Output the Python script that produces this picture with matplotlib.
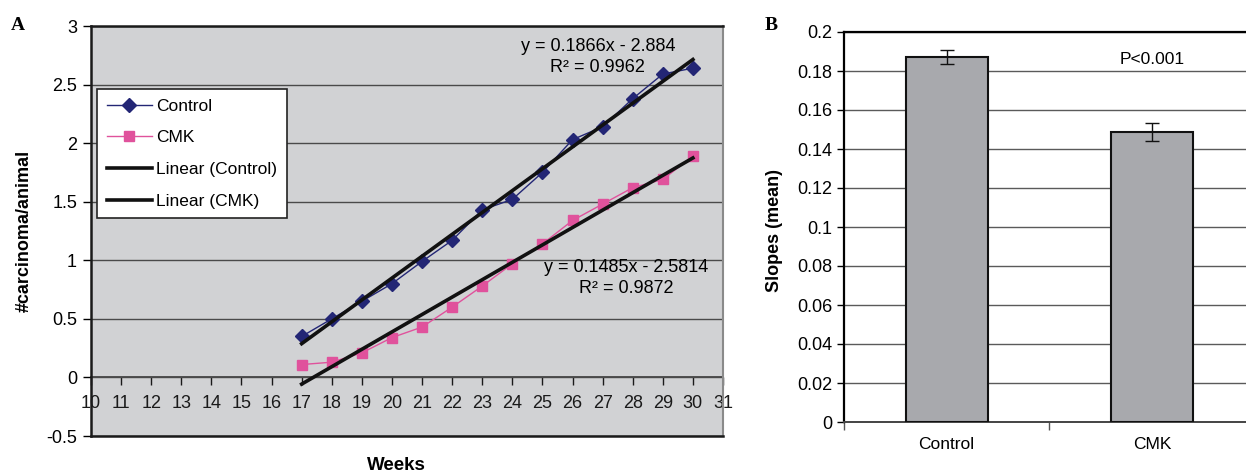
import numpy as np
import matplotlib
matplotlib.use('Agg')
from matplotlib import pyplot as plt

plt.rcParams['font.family'] = ['Liberation Sans', 'DejaVu Sans']

# ---------- Panel A data (weekly carcinoma counts)
weeks = [17, 18, 19, 20, 21, 22, 23, 24, 25, 26, 27, 28, 29, 30]
control = [0.35, 0.50, 0.65, 0.80, 0.99, 1.17, 1.43, 1.52, 1.75, 2.03, 2.14, 2.38, 2.59, 2.64]
cmk = [0.11, 0.13, 0.21, 0.34, 0.43, 0.60, 0.78, 0.97, 1.14, 1.34, 1.48, 1.62, 1.69, 1.89]
# trendline coefficients as printed on the chart
fit_control = (0.1866, -2.884)
fit_cmk = (0.1485, -2.5814)
eq_control = 'y = 0.1866x - 2.884\nR² = 0.9962'
eq_cmk = 'y = 0.1485x - 2.5814\nR² = 0.9872'

# ---------- Panel B data (slopes)
groups = ['Control', 'CMK']
slopes = [0.1873, 0.1487]
slope_err = [0.0036, 0.0048]

fs = 13

fig = plt.figure(figsize=(12.46, 4.73), dpi=100)

# ---------- Panel A
ax = fig.add_axes([91 / 1246, 1 - 436 / 473, 632 / 1246, 410 / 473])
ax.set_facecolor('#d1d2d4')
ax.set_xlim(10, 31)
ax.set_ylim(-0.5, 3)
ax.set_yticks(np.arange(-0.5, 3.01, 0.5))
ax.set_yticklabels(['-0.5', '0', '0.5', '1', '1.5', '2', '2.5', '3'])
ax.yaxis.grid(True, color='#4a4a4a', lw=1)
ax.set_axisbelow(True)
ax.tick_params(axis='x', bottom=False, labelbottom=False)
ax.tick_params(axis='y', direction='out', length=6, width=1, labelsize=fs, pad=4)
for side in ['left', 'top', 'bottom']:
    ax.spines[side].set_linewidth(1.8)
    ax.spines[side].set_color('#1a1a1a')
ax.spines['right'].set_color('#8a8a8a')
ax.spines['right'].set_linewidth(1.5)

# x axis crossing at y = 0
sec = ax.secondary_xaxis(0.5 / 3.5)
sec.set_xticks(range(10, 32))
sec.tick_params(direction='out', length=6, width=1, labelsize=fs, pad=7, colors='#1a1a1a')
sec.spines['bottom'].set_color('#3a3a3a')
sec.spines['bottom'].set_linewidth(1.2)

wk = np.array(weeks)
ax.plot(weeks, control, color='#232675', lw=1, marker='D', ms=7, label='Control', zorder=4)
ax.plot(weeks, cmk, color='#e0529c', lw=1, marker='s', ms=7.5, label='CMK', zorder=4)
ax.plot(wk, fit_control[0] * wk + fit_control[1], color='#111111', lw=2.6, label='Linear (Control)', zorder=5)
ax.plot(wk, fit_cmk[0] * wk + fit_cmk[1], color='#111111', lw=2.6, label='Linear (CMK)', zorder=5)

ax.text(26.84, 2.735, eq_control, ha='center', va='center', fontsize=fs,
        linespacing=1.3, multialignment='center')
ax.text(27.77, 0.85, eq_cmk, ha='center', va='center', fontsize=fs,
        linespacing=1.3, multialignment='center')

leg = ax.legend(loc='upper left', bbox_to_anchor=(0.01, 0.846), borderaxespad=0,
                fontsize=12.5, frameon=True, fancybox=False, handlelength=2.6,
                labelspacing=0.95, borderpad=0.55, handletextpad=0.25)
leg.get_frame().set_edgecolor('#222222')
leg.get_frame().set_linewidth(1.2)
leg.get_frame().set_alpha(1)

ax.set_ylabel('#carcinoma/animal', fontsize=fs, fontweight='bold', va='center')
ax.yaxis.set_label_coords(-0.106, 0.5)
ax.set_xlabel('Weeks', fontsize=fs + 0.5, fontweight='bold', va='center')
ax.xaxis.set_label_coords(0.483, -0.071)

fig.text(18 / 1246, 1 - 26 / 473, 'A', fontsize=14, fontweight='bold',
         family='Liberation Serif', ha='center', va='center')

# ---------- Panel B
bx = fig.add_axes([844 / 1246, 1 - 422 / 473, 410.6 / 1246, 390 / 473])
x = np.arange(len(groups))
bx.bar(x, slopes, width=0.4, color='#a8a9ad', edgecolor='#111111', lw=1.5, zorder=3)
bx.errorbar(x, slopes, yerr=slope_err, fmt='none', ecolor='#111111', elinewidth=1,
            capsize=5, capthick=1, zorder=4)
bx.set_xlim(-0.5, 1.5)
bx.set_ylim(0, 0.2)
bx.set_yticks(np.arange(0, 0.201, 0.02))
bx.set_yticklabels(['0', '0.02', '0.04', '0.06', '0.08', '0.1', '0.12', '0.14', '0.16', '0.18', '0.2'])
bx.set_xticks(x)
bx.set_xticklabels(groups)
bx.set_xticks([-0.5, 0.5, 1.5], minor=True)
bx.tick_params(axis='x', which='major', length=0, labelsize=fs - 0.5, pad=11)
bx.tick_params(axis='x', which='minor', direction='out', length=6, width=1, color='#555555')
bx.tick_params(axis='y', direction='out', length=5, width=1, labelsize=fs)
bx.yaxis.grid(True, color='#5a5a5a', lw=1)
bx.set_axisbelow(True)
bx.spines['left'].set_linewidth(1.6)
bx.spines['top'].set_linewidth(1.6)
bx.spines['right'].set_visible(False)
bx.spines['bottom'].set_color('#444444')
bx.spines['bottom'].set_linewidth(1.4)
bx.text(1, 0.1857, 'P<0.001', ha='center', va='center', fontsize=fs - 0.5)
bx.set_ylabel('Slopes (mean)', fontsize=fs, fontweight='bold', va='center')
bx.yaxis.set_label_coords(-0.17, 0.49)

fig.text(771 / 1246, 1 - 26 / 473, 'B', fontsize=14, fontweight='bold',
         family='Liberation Serif', ha='center', va='center')

fig.savefig('out.png', dpi=100)
